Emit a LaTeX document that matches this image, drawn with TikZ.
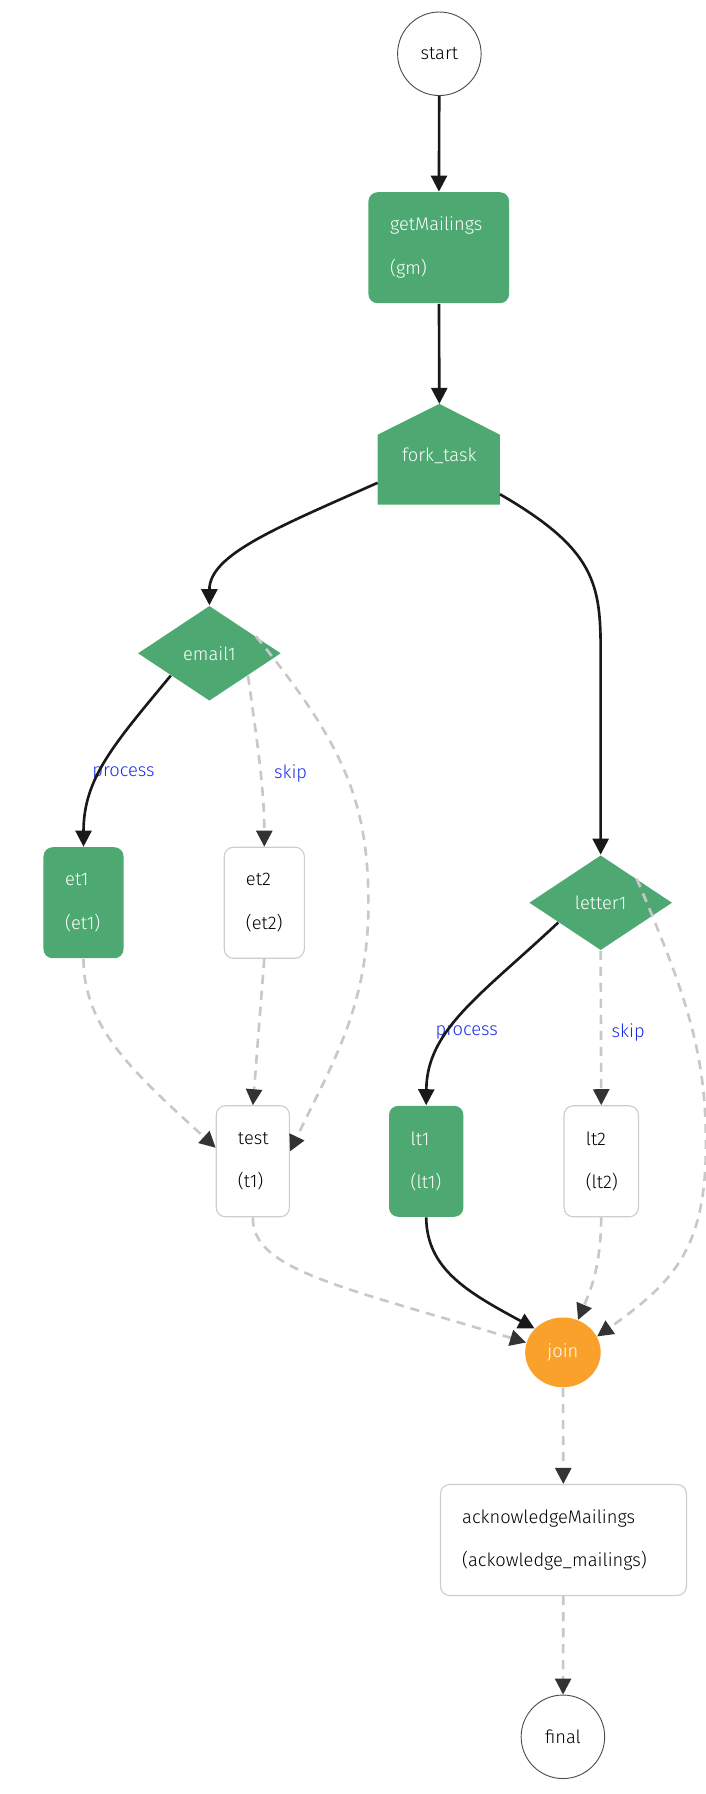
\documentclass[tikz,border=0pt]{standalone}
\usepackage{fontspec}
\setmainfont{Fira Sans Light}[BoldFont=Fira Sans]
\usetikzlibrary{shapes.geometric,arrows.meta}
\definecolor{taskgreen}{RGB}{78,168,114}
\definecolor{joinorange}{RGB}{249,161,43}
\definecolor{edgegray}{RGB}{200,200,200}
\definecolor{boxgray}{RGB}{205,205,205}
\definecolor{labelblue}{RGB}{25,45,230}
\tikzset{
  every picture/.style={line width=1pt},
  txt/.style={font=\fontsize{16}{38}\selectfont},
  term/.style={circle,draw=black!70,line width=0.8pt,minimum size=73pt,inner sep=0pt,txt},
  task/.style={rectangle,rounded corners=8pt,minimum height=97pt,align=left,inner xsep=19pt,inner ysep=0pt,txt},
  done/.style={task,fill=taskgreen,text=white},
  todo/.style={task,draw=boxgray,line width=1pt},
  choice/.style={diamond,fill=taskgreen,text=white,minimum width=125pt,minimum height=83pt,inner sep=0pt,txt},
  run/.style={line width=2.3pt,black!90,-{Triangle[width=14pt,length=14pt]}},
  skipped/.style={line width=2.3pt,edgegray,dash pattern=on 8pt off 6pt,-{Triangle[width=14pt,length=14pt,color=black!80]}},
  lbl/.style={labelblue,font=\fontsize{16}{18}\selectfont}
}
\begin{document}
\begin{tikzpicture}[x=1pt,y=-1pt]
\useasboundingbox (0,0) rectangle (617,1568);

% nodes
\node[term] (start) at (384,47) {start};
\node[done,minimum width=123pt,text width=85pt] (gm) at (383.5,216.5) {getMailings\\(gm)};
\fill[taskgreen] (330,380) -- (384,353) -- (437,380) -- (437,441) -- (330,441) -- cycle;
\coordinate (forktop) at (384,353);
\node[txt,text=white,inner sep=0pt] (fork) at (384,398) {fork\_task};
\node[choice] (email) at (183,571) {email1};
\node[done,minimum width=70pt,text width=32pt] (et1) at (73,789) {et1\\(et1)};
\node[todo,minimum width=70pt,text width=32pt] (et2) at (231,789) {et2\\(et2)};
\node[todo,minimum width=64pt,text width=26pt] (test) at (221,1015) {test\\(t1)};
\node[choice] (letter) at (525,789) {letter1};
\node[done,minimum width=65pt,text width=27pt] (lt1) at (372.5,1015) {lt1\\(lt1)};
\node[todo,minimum width=65pt,text width=27pt] (lt2) at (525.5,1015) {lt2\\(lt2)};
\node[ellipse,fill=joinorange,text=white,minimum width=66pt,minimum height=61pt,inner sep=0pt,txt] (join) at (492,1182) {join};
\node[todo,minimum width=215pt,text width=177pt] (ack) at (492.5,1346) {acknowledgeMailings\\(ackowledge\_mailings)};
\node[term] (final) at (492,1518) {final};

% edge labels
\node[lbl] (p1) at (108,676) {process};
\node[lbl] (s1) at (254,676) {skip};
\node[lbl] (p2) at (408,902) {process};
\node[lbl] (s2) at (549,902) {skip};

% solid edges
\draw[run] (start) -- (gm);
\draw[run] (gm) -- (forktop);
\draw[run] (330,422) .. controls (240,462) and (183,485) .. (email.north);
\draw[run] (437,432) .. controls (520,480) and (525,510) .. (525,570) -- (letter.north);
\draw[run] (email.210) .. controls (100,650) and (73,680) .. (et1.north);
\draw[run] (letter.205) .. controls (420,870) and (373,900) .. (lt1.north);
\draw[run] (lt1.south) .. controls (373,1110) and (410,1130) .. (join.140);

% skipped edges
\draw[skipped] (email.330) .. controls (225,650) and (231,690) .. (et2.north);
\draw[skipped] (email.20) .. controls (300,650) and (322,700) .. (322,790) .. controls (322,880) and (290,930) .. (test.15);
\draw[skipped] (et1.south) .. controls (73,900) and (120,940) .. (test.160);
\draw[skipped] (et2.south) -- (test.north);
\draw[skipped] (test.south) .. controls (220,1110) and (300,1125) .. (join.165);
\draw[skipped] (letter.north east) .. controls (600,870) and (617,920) .. (617,1000) .. controls (617,1090) and (590,1120) .. (join.25);
\draw[skipped] (letter.south) -- (lt2.north);
\draw[skipped] (lt2.south) .. controls (525,1110) and (515,1130) .. (join.65);
\draw[skipped] (join) -- (ack);
\draw[skipped] (ack) -- (final);
\end{tikzpicture}
\end{document}
